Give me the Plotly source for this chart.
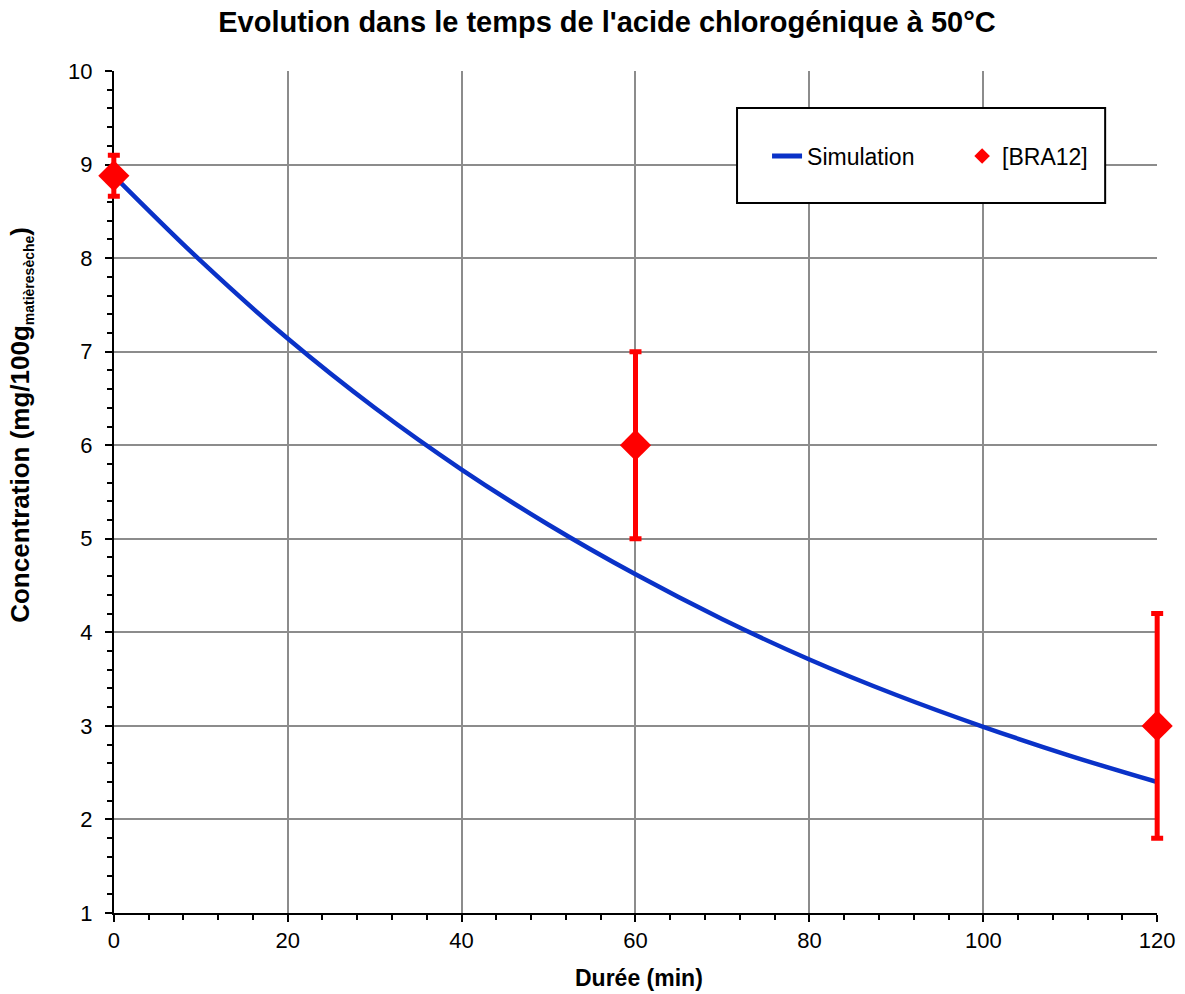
import plotly.graph_objects as go

# Simulation curve
sim_t = [0, 10, 20, 30, 40, 50, 60, 70, 80, 90, 100, 110, 120]
sim_c = [8.88, 7.97, 7.14, 6.40, 5.74, 5.15, 4.62, 4.14, 3.71, 3.33, 2.99, 2.68, 2.40]

# Experimental data [BRA12]
exp_t = [0, 60, 120]
exp_c = [8.88, 6.0, 3.0]
exp_err = [0.22, 1.0, 1.2]

x_ticks = [0, 20, 40, 60, 80, 100, 120]
y_ticks = [1, 2, 3, 4, 5, 6, 7, 8, 9, 10]

FONT = "Liberation Sans, Arial, sans-serif"
BLUE = "#0a32c8"
RED = "#ff0000"

W, H = 1185, 994
PL, PR, PT, PB = 114, 1157, 71, 913   # plot area pixel box
XMIN, XMAX = 0, 120
YMIN, YMAX = 1, 10

# main x axis occupies [D0, D1] of a slightly wider area so the
# markers/error bars at the edges are not clipped (overlay axis x2)
D0, D1 = 0.012, 0.988
inner_w = (PR - PL) / (D1 - D0)
ml = PL - D0 * inner_w
mr = W - ml - inner_w
units_per_frac = (XMAX - XMIN) / (D1 - D0)
x2_range = [XMIN - D0 * units_per_frac, XMAX + (1 - D1) * units_per_frac]

def px(xp):
    return (xp - ml) / inner_w

def py(yp):
    return (PB - yp) / (PB - PT)

fig = go.Figure()
fig.add_trace(go.Scatter(
    x=sim_t, y=sim_c, mode="lines", name="Simulation",
    line=dict(color=BLUE, width=4.5, shape="spline"),
    legend="legend",
))
fig.add_trace(go.Scatter(
    x=exp_t, y=exp_c, mode="markers", name="[BRA12]",
    marker=dict(symbol="diamond", size=24, color=RED),
    error_y=dict(type="data", array=exp_err, color=RED, thickness=5, width=6),
    cliponaxis=False, xaxis="x2", yaxis="y2", legend="legend2",
))

leg_font = dict(size=23, family=FONT, color="black")
fig.update_layout(
    width=W, height=H,
    margin=dict(l=ml, r=mr, t=PT, b=H - PB, autoexpand=False),
    paper_bgcolor="white", plot_bgcolor="rgba(0,0,0,0)",
    font=dict(family=FONT, size=22, color="black"),
    title=dict(text="<b>Evolution dans le temps de l'acide chlorogénique à 50°C</b>",
               x=607 / W, xref="container", xanchor="center",
               y=1 - 22 / H, yref="container", yanchor="middle",
               font=dict(size=29, family=FONT, color="black")),
    showlegend=True,
    legend=dict(x=px(767), xanchor="left", y=py(156), yanchor="middle",
                bgcolor="rgba(0,0,0,0)", borderwidth=0, font=leg_font,
                itemsizing="constant"),
    legend2=dict(x=px(962), xanchor="left", y=py(156), yanchor="middle",
                 bgcolor="rgba(0,0,0,0)", borderwidth=0, font=leg_font,
                 itemsizing="constant"),
    shapes=[dict(type="rect", xref="paper", yref="paper",
                 x0=px(737), x1=px(1105), y0=py(203), y1=py(108),
                 line=dict(color="black", width=2), fillcolor="white", layer="above")],
    annotations=[
        dict(text="<b>Durée (min)</b>", xref="paper", yref="paper",
             x=px(639), y=py(978), xanchor="center", yanchor="middle",
             showarrow=False, font=dict(size=23, family=FONT, color="black")),
        dict(text="<b>Concentration (mg/100g<sub><span style='font-size:14px'>matièresèche</span></sub>)</b>",
             xref="paper", yref="paper",
             x=px(21), y=py(425), xanchor="center", yanchor="middle", textangle=-90,
             showarrow=False, font=dict(size=26, family=FONT, color="black")),
    ],
    xaxis=dict(
        domain=[D0, D1], range=[XMIN, XMAX], tickvals=x_ticks, ticktext=[str(v) for v in x_ticks],
        showline=True, linecolor="black", linewidth=2,
        ticks="outside", ticklen=7, tickwidth=2, tickcolor="black",
        showgrid=True, gridcolor="#8c8c8c", gridwidth=2,
        zeroline=False, tickfont=dict(size=22),
        minor=dict(dtick=4, tick0=0, ticks="outside", ticklen=5, tickwidth=2,
                   tickcolor="black", showgrid=False),
    ),
    yaxis=dict(
        range=[YMIN, YMAX], tickvals=y_ticks, ticktext=[str(v) for v in y_ticks],
        showline=True, linecolor="black", linewidth=2,
        ticks="outside", ticklen=7, tickwidth=2, tickcolor="black",
        showgrid=True, gridcolor="#8c8c8c", gridwidth=2,
        zeroline=False, tickfont=dict(size=22), ticklabelstandoff=8,
        minor=dict(dtick=0.2, tick0=1, ticks="outside", ticklen=5, tickwidth=2,
                   tickcolor="black", showgrid=False),
    ),
    xaxis2=dict(domain=[0, 1], range=x2_range, visible=False, anchor="y2"),
    yaxis2=dict(domain=[0, 1], range=[YMIN, YMAX], visible=False, anchor="x2"),
)

fig.write_html("out.html")
